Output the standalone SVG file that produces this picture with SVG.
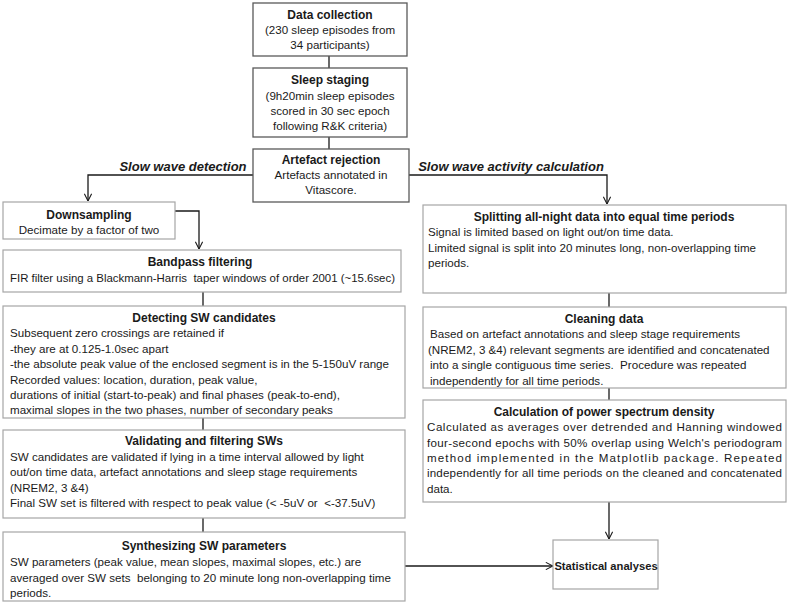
<svg xmlns="http://www.w3.org/2000/svg" width="792" height="605" viewBox="0 0 792 605">
<style>
  .bg{fill:#fff}
  .box{fill:#fff;stroke:#a6a6a6;stroke-width:1.2}
  .dbox{fill:#fff;stroke:#595959;stroke-width:1.3}
  text{font-family:"Liberation Sans",Arial,sans-serif;font-size:11.6px;fill:#1a1a1a;white-space:pre}
  .t{font-weight:bold;text-anchor:middle;font-size:12px}
  .c{text-anchor:middle}
  .lab{font-weight:bold;font-style:italic;text-anchor:middle;font-size:13px}
  .con{fill:none;stroke:#1a1a1a;stroke-width:1.3}
</style>
<defs>
  <marker id="arr" viewBox="0 0 10 10" refX="10" refY="5" markerWidth="8" markerHeight="8" markerUnits="userSpaceOnUse" orient="auto">
    <path d="M1,0.5 L10,5 L1,9.5" fill="none" stroke="#1a1a1a" stroke-width="1.3"/>
  </marker>
</defs>
<rect class="bg" x="0" y="0" width="792" height="605"/>

<g id="connectors">
  <path class="con" d="M329,56 V68"/>
  <path class="con" d="M329,137 V149"/>
  <path class="con" d="M253,175 H88 V201" marker-end="url(#arr)"/>
  <path class="con" d="M409,175 H607 V204" marker-end="url(#arr)"/>
  <path class="con" d="M175,211 H199 V249" marker-end="url(#arr)"/>
  <path class="con" d="M203,292 V306"/>
  <path class="con" d="M203,418 V430"/>
  <path class="con" d="M203,518 V532"/>
  <path class="con" d="M405,566 H553" marker-end="url(#arr)"/>
  <path class="con" d="M609,293 V307"/>
  <path class="con" d="M609,388 V400"/>
  <path class="con" d="M609,502 V539" marker-end="url(#arr)"/>
  <text class="lab" x="183" y="171">Slow wave detection</text>
  <text class="lab" x="511" y="171">Slow wave activity calculation</text>
</g>

<g id="data-collection">
  <rect class="dbox" x="253" y="3" width="154" height="53"/>
  <text class="t" x="330" y="19">Data collection</text>
  <text class="c" x="330" y="34">(230 sleep episodes from</text>
  <text class="c" x="330" y="49">34 participants)</text>
</g>

<g id="sleep-staging">
  <rect class="dbox" x="253" y="68" width="154" height="69"/>
  <text class="t" x="330" y="84">Sleep staging</text>
  <text class="c" x="330" y="100">(9h20min sleep episodes</text>
  <text class="c" x="330" y="115">scored in 30 sec epoch</text>
  <text class="c" x="330" y="130">following R&amp;K criteria)</text>
</g>

<g id="artefact-rejection">
  <rect class="dbox" x="253" y="149" width="156" height="53"/>
  <text class="t" x="331" y="164">Artefact rejection</text>
  <text class="c" x="331" y="179">Artefacts annotated in</text>
  <text class="c" x="331" y="194">Vitascore.</text>
</g>

<g id="downsampling">
  <rect class="box" x="3" y="202" width="172" height="37"/>
  <text class="t" x="89" y="219">Downsampling</text>
  <text class="c" x="89" y="234">Decimate by a factor of two</text>
</g>

<g id="bandpass">
  <rect class="box" x="3" y="250" width="398" height="42"/>
  <text class="t" x="200" y="266">Bandpass filtering</text>
  <text x="10" y="282" textLength="385" lengthAdjust="spacingAndGlyphs">FIR filter using a Blackmann-Harris  taper windows of order 2001 (~15.6sec)</text>
</g>

<g id="detecting">
  <rect class="box" x="3" y="306" width="402" height="112"/>
  <text class="t" x="204" y="322">Detecting SW candidates</text>
  <text x="10" y="337">Subsequent zero crossings are retained if</text>
  <text x="10" y="353">-they are at 0.125-1.0sec apart</text>
  <text x="10" y="368">-the absolute peak value of the enclosed segment is in the 5-150uV range</text>
  <text x="10" y="384">Recorded values: location, duration, peak value,</text>
  <text x="10" y="399">durations of initial (start-to-peak) and final phases (peak-to-end),</text>
  <text x="10" y="414">maximal slopes in the two phases, number of secondary peaks</text>
</g>

<g id="validating">
  <rect class="box" x="3" y="430" width="402" height="88"/>
  <text class="t" x="204" y="445">Validating and filtering SWs</text>
  <text x="10" y="461">SW candidates are validated if lying in a time interval allowed by light</text>
  <text x="10" y="476">out/on time data, artefact annotations and sleep stage requirements</text>
  <text x="10" y="492">(NREM2, 3 &amp;4)</text>
  <text x="10" y="507">Final SW set is filtered with respect to peak value (&lt; -5uV or  &lt;-37.5uV)</text>
</g>

<g id="synthesizing">
  <rect class="box" x="3" y="532" width="402" height="69"/>
  <text class="t" x="204" y="550">Synthesizing SW parameters</text>
  <text x="10" y="566">SW parameters (peak value, mean slopes, maximal slopes, etc.) are</text>
  <text x="10" y="582">averaged over SW sets  belonging to 20 minute long non-overlapping time</text>
  <text x="10" y="597">periods.</text>
</g>

<g id="splitting">
  <rect class="box" x="423" y="205" width="363" height="88"/>
  <text class="t" x="604" y="221">Splitting all-night data into equal time periods</text>
  <text x="428" y="236">Signal is limited based on light out/on time data.</text>
  <text x="428" y="252">Limited signal is split into 20 minutes long, non-overlapping time</text>
  <text x="428" y="267">periods.</text>
</g>

<g id="cleaning">
  <rect class="box" x="423" y="307" width="363" height="81"/>
  <text class="t" x="604" y="323">Cleaning data</text>
  <text x="430" y="338">Based on artefact annotations and sleep stage requirements</text>
  <text x="428" y="354">(NREM2, 3 &amp;4) relevant segments are identified and concatenated</text>
  <text x="430" y="369">into a single contiguous time series.  Procedure was repeated</text>
  <text x="430" y="385">independently for all time periods.</text>
</g>

<g id="psd">
  <rect class="box" x="423" y="400" width="363" height="102"/>
  <text class="t" x="604" y="416">Calculation of power spectrum density</text>
  <text x="427" y="431" textLength="355" lengthAdjust="spacing">Calculated as averages over detrended and Hanning windowed</text>
  <text x="427" y="447" textLength="355" lengthAdjust="spacing">four-second epochs with 50% overlap using Welch's periodogram</text>
  <text x="427" y="462" textLength="355" lengthAdjust="spacing">method implemented in the Matplotlib package. Repeated</text>
  <text x="427" y="477" textLength="355" lengthAdjust="spacing">independently for all time periods on the cleaned and concatenated</text>
  <text x="427" y="493">data.</text>
</g>

<g id="statistical-analyses">
  <rect class="box" x="553" y="540" width="105" height="49"/>
  <text class="t" x="606" y="570" style="font-size:11.2px">Statistical analyses</text>
</g>
</svg>
